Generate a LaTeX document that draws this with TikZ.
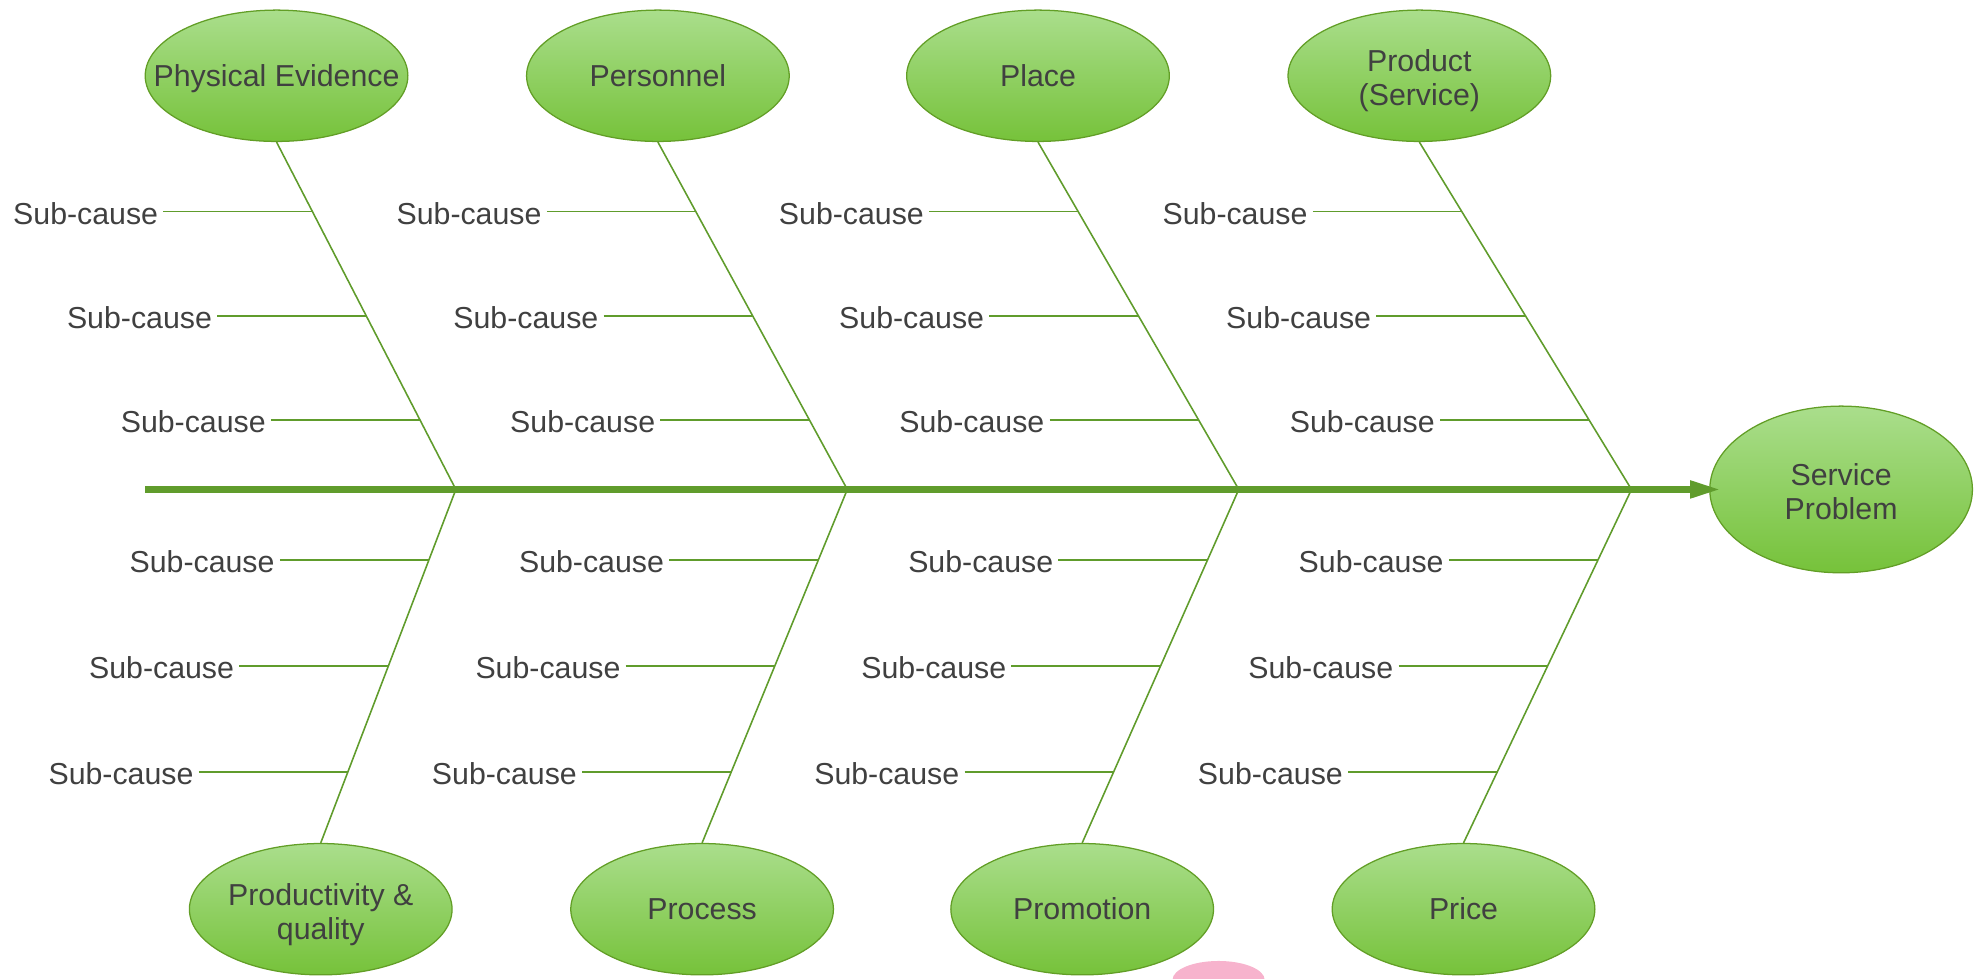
\documentclass[tikz,border=0pt]{standalone}
\usepackage{fontspec}
\setmainfont{Liberation Sans}
\usetikzlibrary{calc,arrows.meta,shapes.geometric}
\definecolor{elltop}{RGB}{170,222,140}
\definecolor{ellbot}{RGB}{118,194,58}
\definecolor{ellline}{RGB}{98,158,38}
\definecolor{fishline}{RGB}{96,156,44}
\definecolor{txtgray}{RGB}{64,64,64}
\definecolor{blobpink}{RGB}{247,179,205}
\newcommand\lblstrut{\rule[-5pt]{0pt}{26.8pt}}

\begin{document}
\begin{tikzpicture}[x=1pt,y=-1pt,
    cause/.style={ellipse,draw=ellline,line width=1pt,top color=elltop,bottom color=ellbot,
      minimum width=208pt,minimum height=104pt,inner sep=0pt},
    txt/.style={text=txtgray,font=\fontsize{24}{27}\selectfont,align=center,inner sep=0pt,
      execute at begin node=\lblstrut,execute at end node=\lblstrut},
    twoline/.style={txt,yshift=-4pt},
    bone/.style={draw=fishline,line width=1.25pt},
    subtxt/.style={txt,anchor=east,yshift=-1.5pt}]
  \useasboundingbox (0,0) rectangle (1568,774.5);

  % effect and causes
  \node[cause,minimum height=132pt,label={[twoline]center:Service\\Problem}] (problem) at (1458,387.6) {};
  \node[cause,label={[txt]center:Physical Evidence}] (evidence)  at (219,60) {};
  \node[cause,label={[txt]center:Personnel}]         (personnel) at (521,60) {};
  \node[cause,label={[txt]center:Place}]             (place)     at (822,60) {};
  \node[cause,label={[twoline]center:Product\\(Service)}] (product) at (1124,60) {};
  \node[cause,label={[twoline]center:Productivity \&\\quality}] (quality) at (254,720) {};
  \node[cause,label={[txt]center:Process}]           (process)   at (556,720) {};
  \node[cause,label={[txt]center:Promotion}]         (promotion) at (857,720) {};
  \node[cause,label={[txt]center:Price}]             (price)     at (1159,720) {};

  \fill[blobpink] (965,776) ellipse [x radius=36.5pt,y radius=15pt];

  % spine
  \coordinate (tail) at (115,387.6);
  \coordinate (tip) at ([xshift=9pt]tail -| problem.west);
  \foreach \j/\x in {1/361,2/671,3/981,4/1292} {\coordinate (spine-\j) at (\x,387.6);}

  % bones
  \foreach \c/\j in {evidence/1,personnel/2,place/3,product/4}
    {\draw[bone] (\c.south) -- (spine-\j)
       coordinate[pos=.2] (\c-1) coordinate[pos=.5] (\c-2) coordinate[pos=.8] (\c-3);};
  \foreach \c/\j in {quality/1,process/2,promotion/3,price/4}
    {\draw[bone] (spine-\j) -- (\c.north)
       coordinate[pos=.2] (\c-1) coordinate[pos=.5] (\c-2) coordinate[pos=.8] (\c-3);};

  % sub-causes
  \foreach \c in {evidence,personnel,place,product,quality,process,promotion,price}
    \foreach \r in {1,2,3} {
      \node[subtxt] (\c-\r-txt) at ($(\c-\r)+(-122,0)$) {Sub-cause};
      \draw[bone] ($(\c-\r)+(-118,0)$) -- (\c-\r);
    };

  \draw[fishline,line width=5pt,-{Triangle[length=24pt,width=13pt]}] (tail) -- (tip);
\end{tikzpicture}
\end{document}
